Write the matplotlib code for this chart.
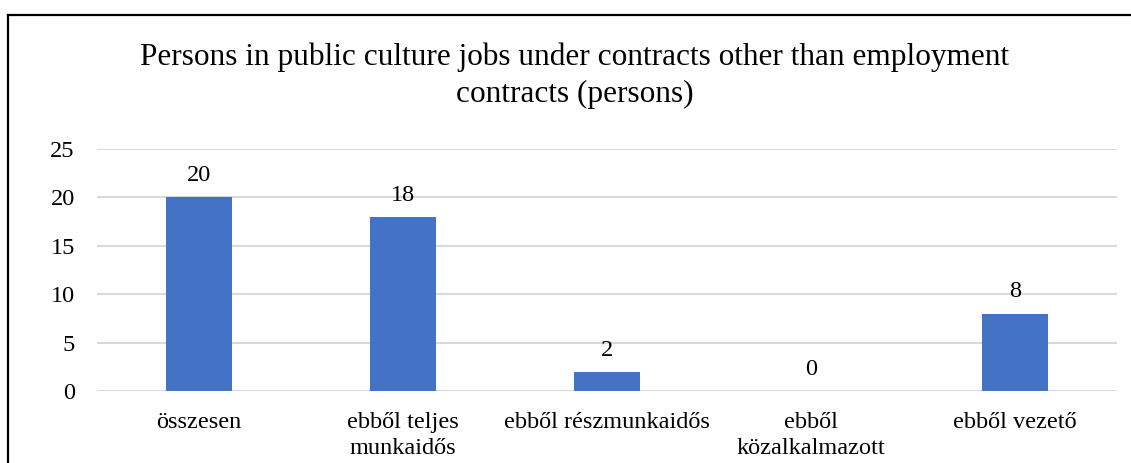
import matplotlib
matplotlib.use("Agg")
import matplotlib.pyplot as plt
from matplotlib.lines import Line2D

categories = ["összesen", "ebből teljes\nmunkaidős", "ebből részmunkaidős",
              "ebből\nközalkalmazott", "ebből vezető"]
persons = [20, 18, 2, 0, 8]
y_ticks = [0, 5, 10, 15, 20, 25]
title = "Persons in public culture jobs under contracts other than employment\ncontracts (persons)"

plt.rcParams["font.family"] = ["Liberation Serif", "DejaVu Serif"]

W, H = 1131, 463
fig = plt.figure(figsize=(W / 100, H / 100), dpi=100)
ax = fig.add_axes([97 / W, 72 / H, 1020 / W, 242 / H])

x = range(len(categories))
bars = ax.bar(x, persons, width=0.32, color="#4472C4", zorder=3)
for rect, val in zip(bars, persons):
    ax.annotate(str(val), (rect.get_x() + rect.get_width() / 2, val),
                xytext=(0, 8), textcoords="offset points",
                ha="center", va="bottom", fontsize=17.5, zorder=4)

ax.set_xlim(-0.5, len(categories) - 0.5)
ax.set_ylim(0, 25)
ax.set_yticks(y_ticks)
ax.set_xticks(list(x))
ax.set_xticklabels(categories, fontsize=17.5, linespacing=1.3)
ax.tick_params(axis="y", labelsize=17.5, length=0, pad=16)
ax.tick_params(axis="x", length=0, pad=15)
ax.grid(axis="y", color="#d9d9d9", linewidth=1.5, zorder=0)
for side in ax.spines.values():
    side.set_visible(False)

fig.text(575 / W, 1 - 42 / H, title, ha="center", va="top",
         fontsize=22.5, linespacing=1.38)

# outer chart border (left and top edges)
fig.add_artist(Line2D([8 / W, 8 / W], [0, 1 - 15 / H], transform=fig.transFigure,
                      color="black", linewidth=1.6))
fig.add_artist(Line2D([8 / W, 1], [1 - 15 / H, 1 - 15 / H], transform=fig.transFigure,
                      color="black", linewidth=1.6))

fig.savefig("out.png", dpi=100)
